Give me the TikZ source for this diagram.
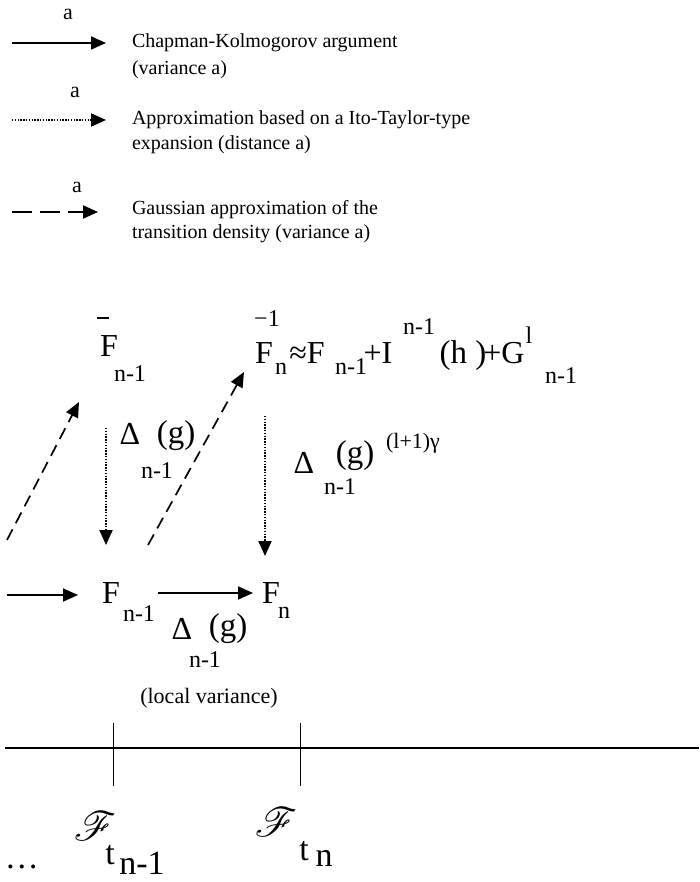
\documentclass[tikz,border=0pt]{standalone}
\usepackage{fontspec}
\setmainfont{Liberation Serif}
\usepackage{mathrsfs}
\usetikzlibrary{arrows.meta}
\begin{document}
\begin{tikzpicture}[x=1pt,y=-1pt,
  every node/.style={inner sep=0pt, outer sep=0pt},
  legtxt/.style={anchor=base west, font=\fontsize{20}{24}\selectfont},
  lab/.style={anchor=base, font=\fontsize{22}{24}\selectfont},
  big/.style={anchor=base, font=\fontsize{32}{34}\selectfont},
  paren/.style={anchor=base, font=\fontsize{33}{35}\selectfont},
  sub/.style={anchor=base, font=\fontsize{24}{26}\selectfont},
  sup/.style={anchor=base, font=\fontsize{22}{24}\selectfont},
  tt/.style={anchor=base, font=\fontsize{34}{36}\selectfont},
  scr/.style={anchor=base, font=\fontsize{24}{26}\selectfont, scale=1.65},
  tip/.style={-{Triangle[length=15pt,width=13pt]}},
  solidarr/.style={tip, line width=1.8pt},
  dotarr/.style={tip, line width=2pt, dash pattern=on 1.4pt off 1.4pt},
  dasharr/.style={tip, line width=1.7pt, dash pattern=on 12pt off 7pt},
  legdash/.style={tip, line width=2pt, dash pattern=on 20pt off 8pt},
]
\useasboundingbox (0,0) rectangle (699,882);

% ---------- legend ----------
\node[lab] (la1) at (68,20) {a};
\coordinate (l1s) at (12,43); \coordinate (l1e) at (106,43);
\draw[solidarr] (l1s) -- (l1e);
\node[legtxt] (t1a) at (132,48) {Chapman-Kolmogorov argument};
\node[legtxt] (t1b) at (132,75) {(variance a)};

\node[lab] (la2) at (75,98) {a};
\coordinate (l2s) at (12,120); \coordinate (l2e) at (106,120);
\draw[dotarr] (l2s) -- (l2e);
\node[legtxt] (t2a) at (132,125) {Approximation based on a Ito-Taylor-type};
\node[legtxt] (t2b) at (132,150) {expansion (distance a)};

\node[lab] (la3) at (77,193) {a};
\coordinate (l3s) at (12,212); \coordinate (l3e) at (98,212);
\draw[legdash] (l3s) -- (l3e);
\node[legtxt] (t3a) at (132,215) {Gaussian approximation of the};
\node[legtxt] (t3b) at (132,239) {transition density (variance a)};

% ---------- upper row ----------
\coordinate (barA) at (97,318); \coordinate (barB) at (109,318);
\draw[line width=1.3pt] (barA) -- (barB);
\node[big] (FbL) at (109,356) {F};
\node[sub] (FbLs) at (130,381) {n-1};

\node[sub] (supm1) at (267,326) {−1};
\node[big] (FbR) at (264,363) {F};
\node[sub] (FbRs) at (281,374) {n};
\node[big] (apx) at (307,363) {≈F};
\node[sub] (s1) at (351,374) {n-1};
\node[big] (pI) at (378,363) {+I};
\node[sub] (s2) at (419,334) {n-1};
\node[paren] (hh) at (463,363) {(h )};
\node[big] (pG) at (504,363) {+G};
\node[sub] (s3) at (529,343) {l};
\node[sub] (s4) at (561,383) {n-1};

% ---------- middle labels ----------
\node[big] (dL) at (130,444) {Δ};
\node[paren] (gL) at (176,443) {(g)};
\node[sub] (nL) at (157,478) {n-1};

\node[big] (dR) at (304,473) {Δ};
\node[paren] (gR) at (355,463) {(g)};
\node[sup] (eR) at (413,448) {(l+1)γ};
\node[sub] (nR) at (340,494) {n-1};

% ---------- lower row ----------
\node[big] (F1) at (111,603) {F};
\node[sub] (F1s) at (139,621) {n-1};
\node[big] (F2) at (271,603) {F};
\node[sub] (F2s) at (284,618) {n};
\node[big] (dB) at (182,639) {Δ};
\node[paren] (gB) at (228,636) {(g)};
\node[sub] (nB) at (205,667) {n-1};
\node[lab] (lv) at (209,703) {(local variance)};

% ---------- arrows ----------
\coordinate (a1s) at (7,540);   \coordinate (a1e) at (79,402);
\draw[dasharr] (a1s) -- (a1e);
\coordinate (b1s) at (106,428); \coordinate (b1e) at (106,545);
\draw[dotarr] (b1s) -- (b1e);
\coordinate (a2s) at (148,545); \coordinate (a2e) at (244,372);
\draw[dasharr] (a2s) -- (a2e);
\coordinate (b2s) at (265,416); \coordinate (b2e) at (265,556);
\draw[dotarr] (b2s) -- (b2e);
\coordinate (c1s) at (7,595);   \coordinate (c1e) at (78,595);
\draw[solidarr] (c1s) -- (c1e);
\coordinate (c2s) at (158,593); \coordinate (c2e) at (253,593);
\draw[solidarr] (c2s) -- (c2e);

% ---------- time axis ----------
\coordinate (ax0) at (5,748); \coordinate (ax1) at (699,748);
\draw[line width=1.8pt] (ax0) -- (ax1);
\coordinate (k1a) at (113,723); \coordinate (k1b) at (113,786);
\coordinate (k2a) at (300,723); \coordinate (k2b) at (300,786);
\draw[line width=1pt] (k1a) -- (k1b);
\draw[line width=1pt] (k2a) -- (k2b);

\node[tt] (dots) at (22,868) {…};
\node[scr] (sF1) at (95,840) {$\mathscr{F}$};
\node[tt] (tL) at (110,864) {t};
\node[tt] (tLs) at (142,874) {n-1};
\node[scr] (sF2) at (276,836) {$\mathscr{F}$};
\node[tt] (tR) at (304,860) {t};
\node[tt] (tRs) at (324,866) {n};
\end{tikzpicture}
\end{document}
